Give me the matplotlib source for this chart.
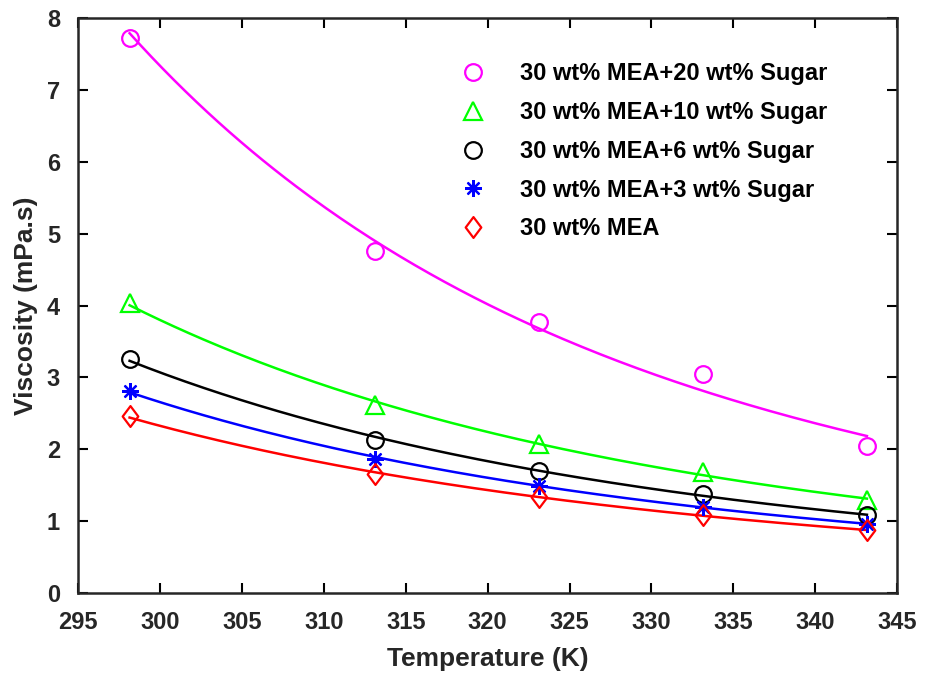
import numpy as np
import matplotlib.pyplot as plt
from matplotlib.path import Path

temps = [298.15, 313.15, 323.15, 333.15, 343.15]

mea20 = [7.73, 4.76, 3.77, 3.05, 2.04]
mea10 = [4.03, 2.61, 2.08, 1.69, 1.29]
mea6 = [3.26, 2.13, 1.70, 1.38, 1.08]
mea3 = [2.81, 1.87, 1.49, 1.20, 0.96]
mea0 = [2.47, 1.65, 1.33, 1.08, 0.88]

labels = ['30 wt% MEA+20 wt% Sugar', '30 wt% MEA+10 wt% Sugar',
          '30 wt% MEA+6 wt% Sugar', '30 wt% MEA+3 wt% Sugar', '30 wt% MEA']
series = [mea20, mea10, mea6, mea3, mea0]
colors = ['#ff00ff', '#00ff00', 'black', 'blue', 'red']

# matlab-like diamond (a bit taller than wide)
diamond = Path([(0, 1), (0.75, 0), (0, -1), (-0.75, 0), (0, 1)],
               [Path.MOVETO, Path.LINETO, Path.LINETO, Path.LINETO, Path.CLOSEPOLY])
markers = ['o', '^', 'o', (8, 2, 0), diamond]
msizes = [12, 13, 12, 12, 15]

plt.rcParams['font.family'] = ['Liberation Sans', 'DejaVu Sans']
plt.rcParams['font.weight'] = 'bold'

fig = plt.figure(figsize=(9.25, 6.76), dpi=100)
ax = fig.add_axes([0.0843, 0.1228, 0.8857, 0.8502])

T = np.array(temps)
tt = np.linspace(T[0], T[-1], 200)
handles = []
for y, c, m, ms, lab in zip(series, colors, markers, msizes, labels):
    # Arrhenius-type fit: ln(mu) = a + b/T
    b, a = np.polyfit(1 / T, np.log(y), 1)
    ax.plot(tt, np.exp(a + b / tt), color=c, lw=1.8, zorder=2)
    h, = ax.plot(T, y, linestyle='none', marker=m, ms=ms, mfc='none',
                 mec=c, mew=1.6, label=lab, zorder=3)
    handles.append(h)

ax.set_xlim(295, 345)
ax.set_ylim(0, 8)
ax.set_xticks(range(295, 346, 5))
ax.set_yticks(range(0, 9))
ax.tick_params(direction='in', length=7, width=1.5, labelsize=17,
               top=True, right=True, labelcolor='#262626')
ax.tick_params(axis='x', pad=13)
ax.tick_params(axis='y', pad=13)
for s in ax.spines.values():
    s.set_linewidth(1.8)
    s.set_color('#262626')

ax.set_xlabel('Temperature (K)', fontsize=19, fontweight='bold', color='#262626', labelpad=9)
ax.set_ylabel('Viscosity (mPa.s)', fontsize=19, fontweight='bold', color='#262626', labelpad=6)

leg = ax.legend(handles=handles, loc='upper left', bbox_to_anchor=(0.449, 0.94),
                frameon=False, fontsize=17, handletextpad=1.25, labelspacing=0.67,
                handlelength=1.5, borderaxespad=0)
for t in leg.get_texts():
    t.set_fontweight('bold')

fig.savefig('out.png', dpi=100)
